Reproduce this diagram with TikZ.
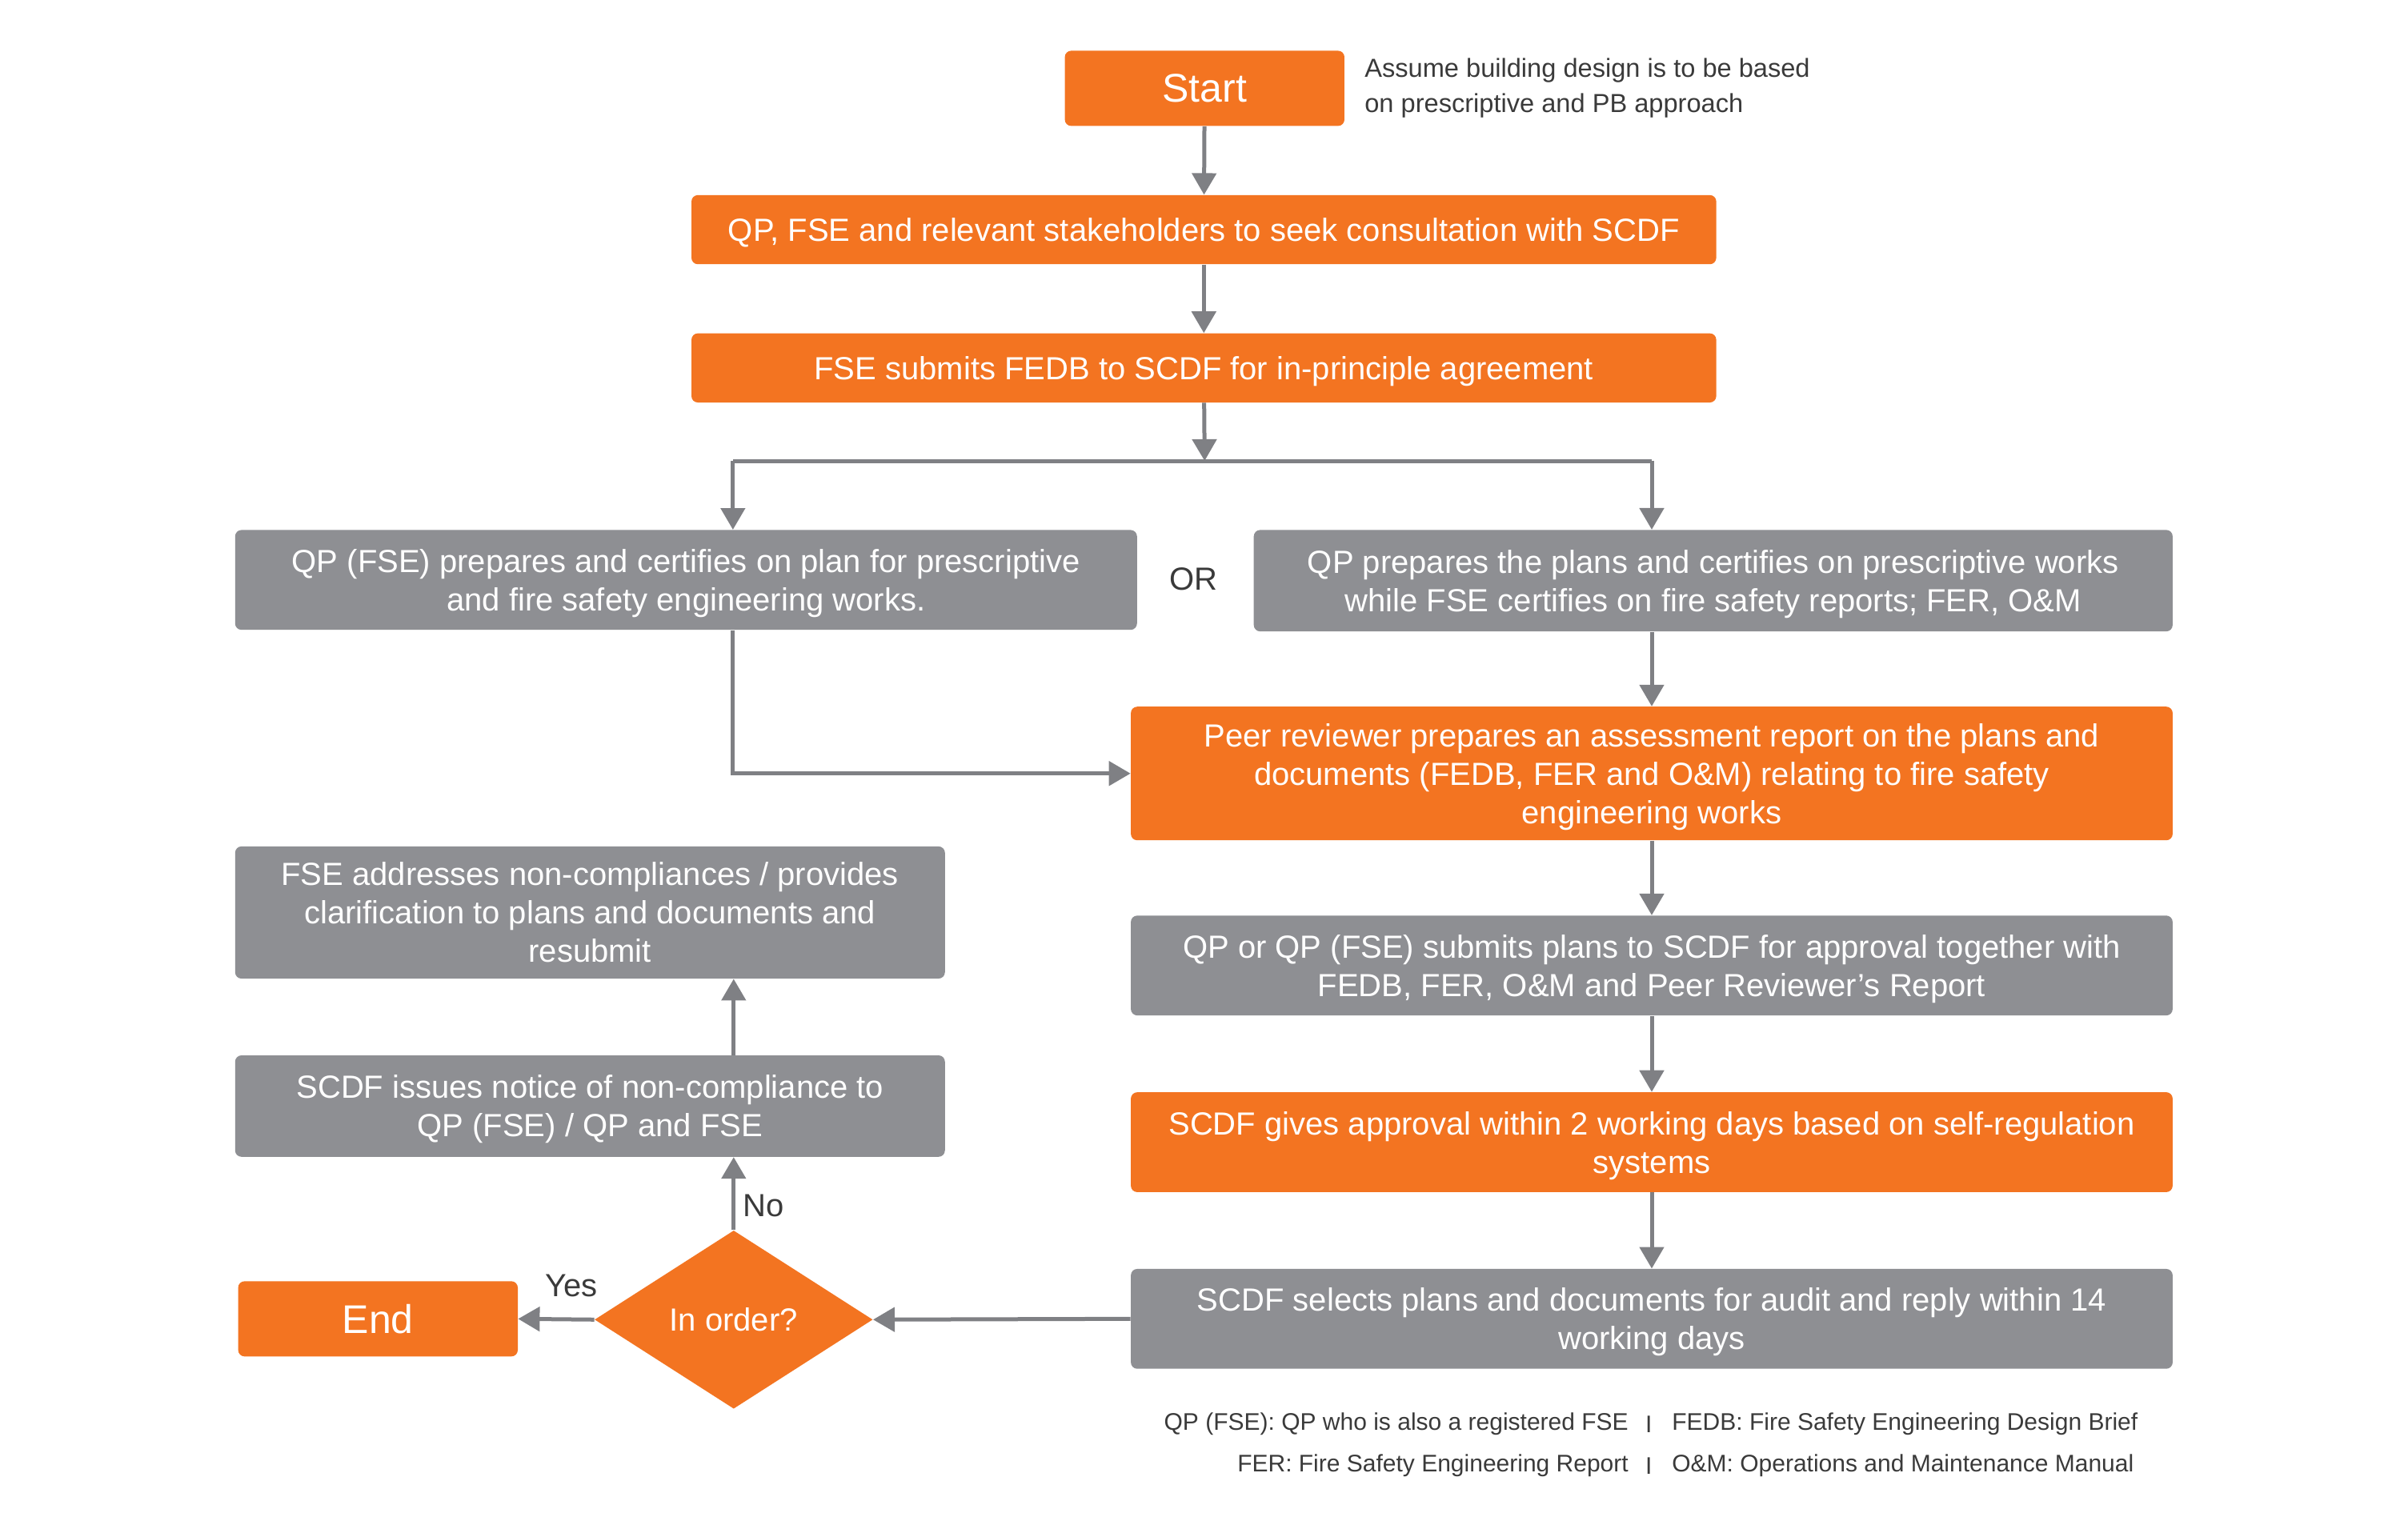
\documentclass[tikz,border=0pt]{standalone}
\usepackage{fontspec}
\setmainfont{Liberation Sans}
\usetikzlibrary{shapes.geometric,arrows.meta}
\definecolor{fsorange}{HTML}{F37421}
\definecolor{fsgray}{HTML}{8E8F93}
\definecolor{fsline}{HTML}{7F8084}
\definecolor{fstext}{HTML}{3A3A3A}
\tikzset{
	box/.style={rectangle, rounded corners=4pt, inner sep=0pt, text depth=0pt, text=white, align=center, font=\fontsize{20}{24}\selectfont},
	orangebox/.style={box, fill=fsorange},
	graybox/.style={box, fill=fsgray},
	arr/.style={draw=fsline, line width=2.5pt, -{Triangle[length=13.5pt,width=15pt]}},
	link/.style={draw=fsline, line width=2.5pt},
	note/.style={text=fstext, align=left, font=\fontsize{16.3}{22}\selectfont},
	foot/.style={text=fstext, inner sep=0pt, font=\fontsize{15}{18}\selectfont},
	answer/.style={text=fstext, font=\fontsize{20}{24}\selectfont}
}

\begin{document}
\begin{tikzpicture}[x=0.96pt, y=-0.96pt]
	\useasboundingbox (0,0) rectangle (1567.2,984.4);
	% top of the chart
	\node[orangebox, minimum width=174.7pt, minimum height=47pt, font=\fontsize{25}{30}\selectfont] (start) at (784,57.5) {Start};
	\node[note, anchor=west, inner sep=0pt] (assume) at (888,57.5) {Assume building design is to be based\\on prescriptive and PB approach};
	\node[orangebox, minimum width=640.3pt, minimum height=43.2pt] (consult) at (783.5,149.5) {QP, FSE and relevant stakeholders to seek consultation with SCDF};
	\node[orangebox, minimum width=640.3pt, minimum height=43.2pt] (fedb) at (783.5,239.5) {FSE submits FEDB to SCDF for in-principle agreement};
	% the two ways
	\node[graybox, minimum width=563.5pt, minimum height=62.4pt] (planqp) at (446.5,377.5) {QP (FSE) prepares and certifies on plan for prescriptive\\and fire safety engineering works.};
	\node[answer] (or) at (777,377) {OR};
	\node[graybox, minimum width=574.1pt, minimum height=63.4pt] (planfse) at (1115,378) {QP prepares the plans and certifies on prescriptive works\\while FSE certifies on fire safety reports; FER, O\&M};
	% right column
	\node[orangebox, minimum width=650.9pt, minimum height=83.5pt] (peer) at (1075,503.5) {Peer reviewer prepares an assessment report on the plans and\\documents (FEDB, FER and O\&M) relating to fire safety\\engineering works};
	\node[graybox, minimum width=650.9pt, minimum height=62.4pt] (submit) at (1075,628.5) {QP or QP (FSE) submits plans to SCDF for approval together with\\FEDB, FER, O\&M and Peer Reviewer’s Report};
	\node[orangebox, minimum width=650.9pt, minimum height=62.4pt] (approval) at (1075,743.5) {SCDF gives approval within 2 working days based on self-regulation\\systems};
	\node[graybox, minimum width=650.9pt, minimum height=62.4pt] (audit) at (1075,858.5) {SCDF selects plans and documents for audit and reply within 14\\working days};
	% left column
	\node[diamond, fill=fsorange, text=white, inner sep=0pt, minimum width=173.8pt, minimum height=111.4pt, font=\fontsize{20}{24}\selectfont] (inorder) at (477.5,859) {In order?};
	\node[orangebox, minimum width=174.7pt, minimum height=47pt, font=\fontsize{25}{30}\selectfont] (end) at (246,858.5) {End};
	\node[graybox, minimum width=443.5pt, minimum height=63.4pt] (notice) at (384,720) {SCDF issues notice of non-compliance to\\QP (FSE) / QP and FSE};
	\node[graybox, minimum width=443.5pt, minimum height=82.6pt] (resubmit) at (384,594) {FSE addresses non-compliances / provides\\clarification to plans and documents and\\resubmit};
	% connectors
	\coordinate (split) at (784,300);
	\coordinate (splitL) at (477,300);
	\coordinate (splitR) at (1075,300);
	\draw[arr] (start) -- (consult);
	\draw[arr] (consult) -- (fedb);
	\draw[arr] (fedb) -- (split);
	\draw[link] (splitL) -- (splitR);
	\draw[arr] (splitL) -- (splitL |- planqp.north);
	\draw[arr] (splitR) -- (splitR |- planfse.north);
	\draw[arr] (splitR |- planfse.south) -- (peer.north);
	\draw[arr] (splitL |- planqp.south) |- (peer.west);
	\draw[arr] (peer) -- (submit);
	\draw[arr] (submit) -- (approval);
	\draw[arr] (approval) -- (audit);
	\draw[arr] (audit.west) -- (inorder.east);
	\draw[arr] (inorder.west) -- (end.east);
	\draw[arr] (inorder.north) -- (inorder.north |- notice.south);
	\draw[arr] (inorder.north |- notice.north) -- (inorder.north |- resubmit.south);
	\node[answer] (yes) at (372,837) {Yes};
	\node[answer] (no) at (497,785) {No};
	% abbreviations
	\node[foot, anchor=east] (qpnote) at (1060,927) {QP (FSE): QP who is also a registered FSE};
	\node[foot] (sepa) at (1073,927) {I};
	\node[foot, anchor=west] (fedbnote) at (1088,927) {FEDB: Fire Safety Engineering Design Brief};
	\node[foot, anchor=east] (fernote) at (1060,954) {FER: Fire Safety Engineering Report};
	\node[foot] (sepb) at (1073,954) {I};
	\node[foot, anchor=west] (omnote) at (1088,954) {O\&M: Operations and Maintenance Manual};
\end{tikzpicture}
\end{document}
